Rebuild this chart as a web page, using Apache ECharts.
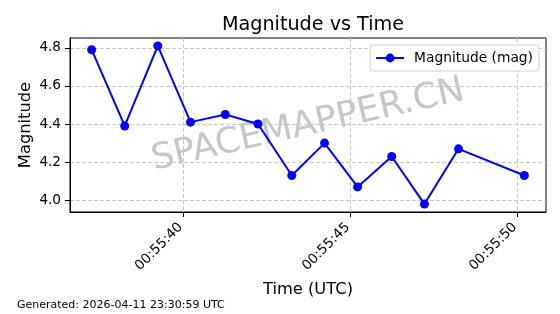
<!DOCTYPE html>
<html>
<head>
<meta charset="utf-8">
<script src="https://cdn.jsdelivr.net/npm/echarts@6/dist/echarts.min.js"></script>
<style>
html,body{margin:0;padding:0;background:#fff;}
#c{width:560px;height:314px;}
</style>
</head>
<body>
<div id="c"></div>
<script>
// Time in seconds after 00:55:00 UTC
const timeSeconds = [37.27, 38.26, 39.25, 40.23, 41.27, 42.25, 43.26, 44.24, 45.23, 46.25, 47.23, 48.25, 50.22];
const magnitudes = [4.79, 4.39, 4.81, 4.41, 4.45, 4.40, 4.13, 4.30, 4.07, 4.23, 3.98, 4.27, 4.13];
const xTickValues = [40, 45, 50];
const xTickLabels = ['00:55:40', '00:55:45', '00:55:50'];
const yTickValues = [4.0, 4.2, 4.4, 4.6, 4.8];
const yTickLabels = ['4.0', '4.2', '4.4', '4.6', '4.8'];
const seriesName = 'Magnitude (mag)';
const titleText = 'Magnitude vs Time';
const xAxisTitle = 'Time (UTC)';
const yAxisTitle = 'Magnitude';
const footerText = 'Generated: 2026-04-11 23:30:59 UTC';
const watermarkText = 'SPACEMAPPER.CN';

const FONT = 'DejaVu Sans';
const pad = (v) => {
  const xmin = Math.min(...v), xmax = Math.max(...v), m = (xmax - xmin) * 0.05;
  return [xmin - m, xmax + m];
};
const xr = pad(timeSeconds);
const yr = pad(magnitudes);

const chart = echarts.init(document.getElementById('c'), null, {renderer: 'canvas'});
const gridLine = {show: true, lineStyle: {color: '#c8c8c8', type: [4, 2], width: 1}};
chart.setOption({
  animation: false,
  backgroundColor: '#fff',
  textStyle: {fontFamily: FONT},
  title: {
    text: titleText, left: 308, top: 11, textAlign: 'center',
    textStyle: {fontFamily: FONT, fontSize: 19.2, fontWeight: 'normal', color: '#000'}
  },
  legend: {
    data: [seriesName], right: 21, top: 45,
    itemWidth: 28, itemHeight: 11, padding: [6, 6, 6, 5],
    backgroundColor: '#fff', borderColor: '#d0d0d0', borderWidth: 1, borderRadius: 3,
    textStyle: {fontFamily: FONT, fontSize: 13.8, color: '#000', padding: [0, 0, 0, 5]}
  },
  grid: {left: 70, right: 14, top: 38, height: 174, show: true, borderColor: '#000', borderWidth: 1, backgroundColor: 'transparent'},
  xAxis: {
    type: 'value', min: xr[0], max: xr[1],
    name: xAxisTitle, nameLocation: 'middle', nameGap: 70, nameMoveOverlap: false,
    nameTextStyle: {fontFamily: FONT, fontSize: 16.3, color: '#000'},
    axisLine: {show: true, lineStyle: {color: '#000', width: 1}},
    axisTick: {show: true, length: 5, lineStyle: {color: '#000'}, customValues: xTickValues},
    axisLabel: {
      rotate: 45, margin: 11, padding: [0, 3, 0, 0], fontFamily: FONT, fontSize: 13.6, color: '#000',
      customValues: xTickValues,
      formatter: (v) => xTickLabels[xTickValues.indexOf(Math.round(v))] || ''
    },
    splitLine: gridLine
  },
  yAxis: {
    type: 'value', min: yr[0], max: yr[1],
    name: yAxisTitle, nameLocation: 'middle', nameGap: 36, nameMoveOverlap: false,
    nameTextStyle: {fontFamily: FONT, fontSize: 16.3, color: '#000'},
    axisLine: {show: true, lineStyle: {color: '#000', width: 1}},
    axisTick: {show: true, length: 5, lineStyle: {color: '#000'}, customValues: yTickValues},
    axisLabel: {
      margin: 9, fontFamily: FONT, fontSize: 13.6, color: '#000',
      customValues: yTickValues,
      formatter: (v) => {
        const i = yTickValues.findIndex(t => Math.abs(t - v) < 1e-6);
        return i >= 0 ? yTickLabels[i] : '';
      }
    },
    splitLine: gridLine
  },
  graphic: [
    {
      type: 'text', x: 308, y: 125.5, rotation: 12.7 * Math.PI / 180, z: -1, zlevel: 0,
      style: {text: watermarkText, font: '35.6px "DejaVu Sans"', fill: '#c6c6c6', align: 'center', verticalAlign: 'middle'}
    },
    {
      type: 'text', left: 17, top: 300,
      style: {text: footerText, font: '11px "DejaVu Sans"', fill: '#000'}
    }
  ],
  series: [{
    name: seriesName, type: 'line',
    data: timeSeconds.map((t, i) => [t, magnitudes[i]]),
    symbol: 'circle', symbolSize: 9,
    lineStyle: {color: '#0000ff', width: 2},
    itemStyle: {color: '#0000ff'},
    z: 3
  }]
});
</script>
</body>
</html>
